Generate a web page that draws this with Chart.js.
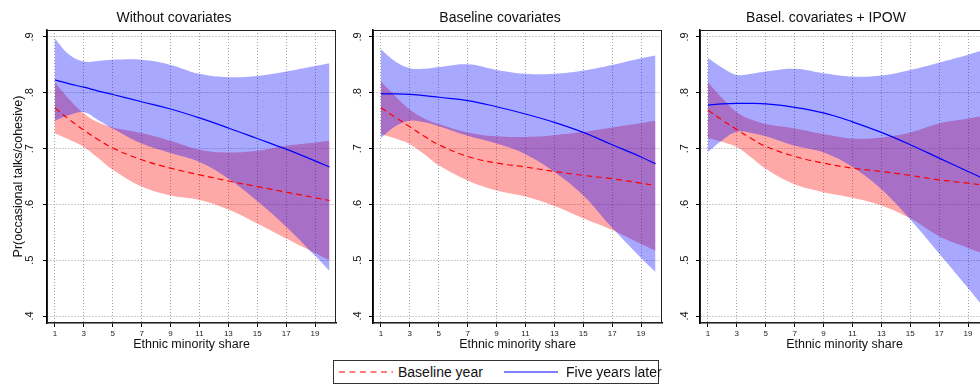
<!DOCTYPE html>
<html>
<head>
<meta charset="utf-8">
<script src="https://cdn.jsdelivr.net/npm/chart.js@4.4.0/dist/chart.umd.min.js"></script>
<style>
  body { margin: 0; background: #fff; }
  #wrap { position: relative; width: 980px; height: 385px; overflow: hidden; font-family: "Liberation Sans", Arial, sans-serif; }
  canvas { position: absolute; top: 0; }
  .ptitle { position: absolute; top: 9px; font-size: 14px; line-height: 16px; color: #111; transform: translateX(-50%); white-space: nowrap; }
  #legend { position: absolute; left: 333px; top: 360px; width: 326px; height: 24px; border: 1px solid #333; box-sizing: border-box; background: #fff; }
  #legend .sample { position: absolute; top: 9px; }
  #legend .lab { position: absolute; top: 3px; font-size: 14px; line-height: 16px; color: #111; white-space: nowrap; }
</style>
</head>
<body>
<div id="wrap">
  <canvas id="c1" width="340" height="385" style="left:0px"></canvas>
  <canvas id="c2" width="326" height="385" style="left:340px"></canvas>
  <canvas id="c3" width="327" height="385" style="left:666px"></canvas>
  <div id="legend"></div>
</div>
<script>
// valeurs
const xs = [1, 2, 3, 4, 5, 7, 9, 11, 13, 15, 17, 19, 20];
const xTicks = [1, 3, 5, 7, 9, 11, 13, 15, 17, 19];
const yTicks = [0.4, 0.5, 0.6, 0.7, 0.8, 0.9];
const yTickLabels = ['.4', '.5', '.6', '.7', '.8', '.9'];
const panelTitles = ['Without covariates', 'Baseline covariates', 'Basel. covariates + IPOW'];
const seriesNames = ['Baseline year', 'Five years later'];

// Without covariates
const p1BaseMean  = [.773, .752, .733, .716, .701, .680, .665, .653, .642, .632, .622, .612, .607];
const p1BaseHi    = [.819, .788, .763, .747, .738, .728, .714, .698, .693, .696, .705, .711, .714];
const p1BaseLo    = [.727, .716, .703, .683, .662, .632, .616, .608, .591, .566, .539, .513, .500];
const p1LaterMean = [.823, .816, .810, .803, .797, .784, .771, .755, .737, .718, .699, .678, .667];
const p1LaterHi   = [.897, .868, .856, .857, .859, .859, .850, .834, .828, .830, .838, .848, .853];
const p1LaterLo   = [.750, .760, .765, .751, .736, .709, .692, .676, .646, .606, .560, .508, .481];

// Baseline covariates
const p2BaseMean  = [.773, .756, .739, .722, .707, .686, .674, .667, .659, .652, .646, .638, .634];
const p2BaseHi    = [.820, .794, .770, .754, .744, .729, .722, .721, .724, .730, .738, .746, .750];
const p2BaseLo    = [.726, .718, .708, .690, .670, .643, .625, .614, .597, .575, .554, .529, .517];
const p2LaterMean = [.798, .798, .797, .795, .792, .786, .775, .762, .747, .729, .707, .685, .673];
const p2LaterHi   = [.878, .856, .844, .843, .846, .851, .841, .834, .834, .840, .850, .862, .867];
const p2LaterLo   = [.719, .740, .750, .747, .740, .723, .709, .690, .658, .616, .558, .504, .479];

// Basel. covariates + IPOW
const p3BaseMean  = [.769, .751, .734, .718, .704, .686, .674, .665, .659, .652, .644, .638, .635];
const p3BaseHi    = [.819, .790, .765, .752, .744, .736, .726, .718, .720, .729, .745, .754, .758];
const p3BaseLo    = [.719, .712, .703, .684, .664, .636, .622, .612, .598, .575, .543, .522, .512];
const p3LaterMean = [.778, .780, .781, .781, .780, .774, .764, .748, .729, .707, .683, .659, .647];
const p3LaterHi   = [.862, .845, .832, .834, .838, .843, .835, .829, .831, .841, .854, .868, .876];
const p3LaterLo   = [.694, .715, .730, .728, .722, .705, .693, .667, .627, .573, .512, .450, .418];

const RED = '#ff0000';
const BLUE = '#0000ff';
const RED_BAND = 'rgba(255, 0, 0, 0.34)';
const BLUE_BAND = 'rgba(0, 0, 255, 0.34)';

// cadre autour de la zone du graphique
const framePlugin = {
  id: 'frame',
  afterDraw(chart) {
    const { ctx, chartArea: a } = chart;
    ctx.save();
    ctx.strokeStyle = '#222';
    ctx.lineWidth = 1;
    ctx.strokeRect(a.left + 0.5, a.top + 0.5, a.right - a.left - 1, a.bottom - a.top - 1);
    ctx.restore();
  }
};

function toPts(arr) {
  return arr.map((v, i) => ({ x: xs[i], y: v }));
}

function makePanel(id, d, showYTitle, yWidth, yPad) {
  const gridOpts = { color: '#a0a0a0', lineWidth: 1, tickColor: '#000', tickLength: 4, tickWidth: 1 };
  const borderOpts = { color: '#000', width: 1.5, dash: [1, 2] };
  return new Chart(document.getElementById(id), {
    type: 'line',
    data: {
      datasets: [
        { label: seriesNames[0], data: toPts(d.baseMean), borderColor: RED, borderWidth: 1.2, borderDash: [6, 4], pointRadius: 0, fill: false },
        { label: seriesNames[1], data: toPts(d.laterMean), borderColor: BLUE, borderWidth: 1.2, pointRadius: 0, fill: false },
        { data: toPts(d.laterHi), borderWidth: 0, pointRadius: 0, backgroundColor: BLUE_BAND, fill: '+1' },
        { data: toPts(d.laterLo), borderWidth: 0, pointRadius: 0, fill: false },
        { data: toPts(d.baseHi), borderWidth: 0, pointRadius: 0, backgroundColor: RED_BAND, fill: '+1' },
        { data: toPts(d.baseLo), borderWidth: 0, pointRadius: 0, fill: false }
      ]
    },
    options: {
      responsive: false,
      animation: false,
      elements: { line: { tension: 0.4 } },
      layout: { padding: { top: 30, right: 4, bottom: 33, left: 0 } },
      plugins: { legend: { display: false }, tooltip: { enabled: false } },
      scales: {
        x: {
          type: 'linear',
          min: 0.45,
          max: 20.45,
          afterBuildTicks: s => { s.ticks = xTicks.map(v => ({ value: v })); },
          afterFit: s => { s.height = 29; },
          ticks: { font: { size: 8, family: '"Liberation Sans", Arial' }, color: '#222', padding: 2, maxRotation: 0, autoSkip: false },
          grid: gridOpts,
          border: borderOpts,
          title: { display: true, text: 'Ethnic minority share', font: { size: 12.5, family: '"Liberation Sans", Arial' }, color: '#111', padding: 0 }
        },
        y: {
          min: 0.3875,
          max: 0.9125,
          afterBuildTicks: s => { s.ticks = yTicks.map(v => ({ value: v })); },
          afterFit: s => { s.width = yWidth; },
          ticks: {
            callback: (v, i) => yTickLabels[i],
            font: { size: 11, family: '"Liberation Sans", Arial' },
            color: '#111',
            minRotation: 90,
            maxRotation: 90,
            crossAlign: 'center',
            padding: yPad,
            autoSkip: false
          },
          grid: gridOpts,
          border: borderOpts,
          title: { display: showYTitle, text: 'Pr(occasional talks/cohesive)', font: { size: 12.5, family: '"Liberation Sans", Arial' }, color: '#111', padding: { top: 11, bottom: 0 } }
        }
      }
    },
    plugins: [framePlugin]
  });
}

makePanel('c1', { baseMean: p1BaseMean, baseHi: p1BaseHi, baseLo: p1BaseLo, laterMean: p1LaterMean, laterHi: p1LaterHi, laterLo: p1LaterLo }, true, 47, 8);
makePanel('c2', { baseMean: p2BaseMean, baseHi: p2BaseHi, baseLo: p2BaseLo, laterMean: p2LaterMean, laterHi: p2LaterHi, laterLo: p2LaterLo }, false, 33, 6.5);
makePanel('c3', { baseMean: p3BaseMean, baseHi: p3BaseHi, baseLo: p3BaseLo, laterMean: p3LaterMean, laterHi: p3LaterHi, laterLo: p3LaterLo }, false, 34, 6);

// titres des panneaux
const wrap = document.getElementById('wrap');
const titleCenters = [174, 500, 826];
panelTitles.forEach((t, i) => {
  const div = document.createElement('div');
  div.className = 'ptitle';
  div.style.left = titleCenters[i] + 'px';
  div.textContent = t;
  wrap.appendChild(div);
});

// légende commune
const legend = document.getElementById('legend');
const legendItems = [
  { name: seriesNames[0], color: RED, dash: '6,4.5', sampleLeft: 5, textLeft: 64 },
  { name: seriesNames[1], color: BLUE, dash: '', sampleLeft: 170, textLeft: 232 }
];
legendItems.forEach(item => {
  const svg = document.createElementNS('http://www.w3.org/2000/svg', 'svg');
  svg.setAttribute('class', 'sample');
  svg.setAttribute('width', '54');
  svg.setAttribute('height', '4');
  svg.style.left = item.sampleLeft + 'px';
  const line = document.createElementNS('http://www.w3.org/2000/svg', 'line');
  line.setAttribute('x1', '0'); line.setAttribute('y1', '2');
  line.setAttribute('x2', '54'); line.setAttribute('y2', '2');
  line.setAttribute('stroke', item.color);
  line.setAttribute('stroke-width', '1.2');
  if (item.dash) line.setAttribute('stroke-dasharray', item.dash);
  svg.appendChild(line);
  legend.appendChild(svg);
  const lab = document.createElement('span');
  lab.className = 'lab';
  lab.style.left = item.textLeft + 'px';
  lab.textContent = item.name;
  legend.appendChild(lab);
});
</script>
</body>
</html>
